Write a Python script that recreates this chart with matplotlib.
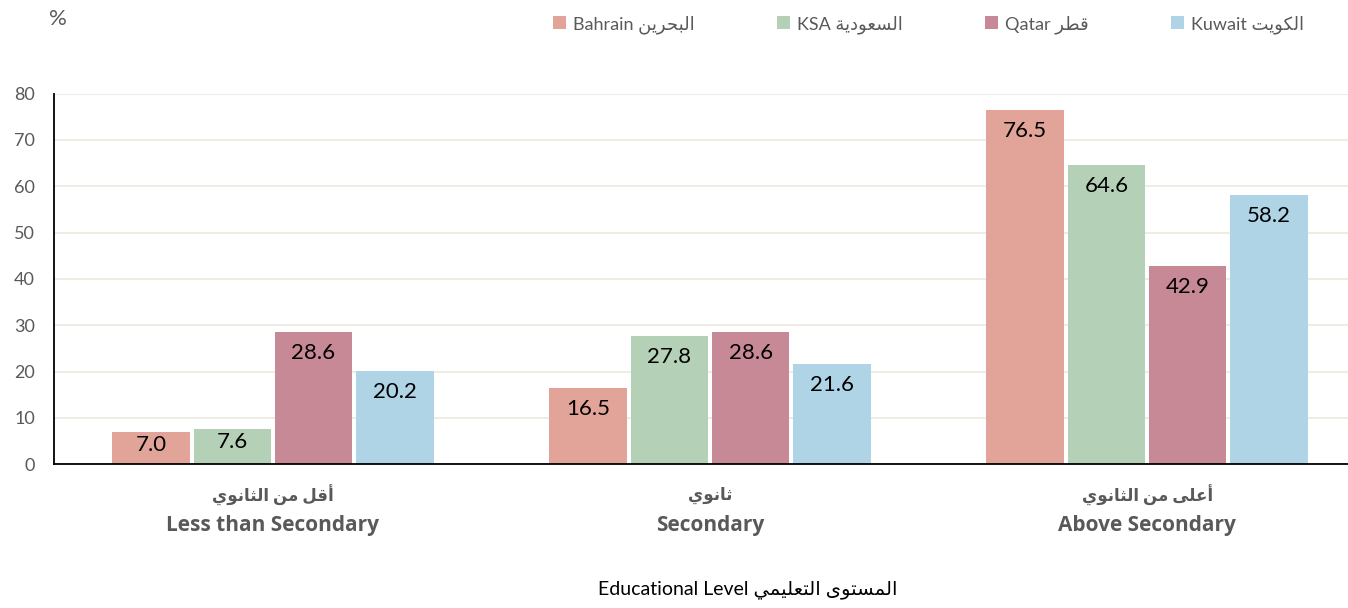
import matplotlib.pyplot as plt
import matplotlib.transforms as mtransforms
import numpy as np

# shares by education level (%)
levels_en = ["Less than Secondary", "Secondary", "Above Secondary"]
levels_ar = ["أقل من الثانوي", "ثانوي", "أعلى من الثانوي"]

countries_en = ["Bahrain", "KSA", "Qatar", "Kuwait"]
countries_ar = ["البحرين", "السعودية", "قطر", "الكويت"]

bahrain = [7.0, 16.5, 76.5]
ksa = [7.6, 27.8, 64.6]
qatar = [28.6, 28.6, 42.9]
kuwait = [20.2, 21.6, 58.2]

colors = ["#E2A498", "#B4D0B6", "#C88997", "#AED4E6"]

# presentation forms: isolated, final, initial, medial
FORMS = {
    "ا": ("\uFE8D", "\uFE8E", None, None),
    "أ": ("\uFE83", "\uFE84", None, None),
    "ب": ("\uFE8F", "\uFE90", "\uFE91", "\uFE92"),
    "ة": ("\uFE93", "\uFE94", None, None),
    "ت": ("\uFE95", "\uFE96", "\uFE97", "\uFE98"),
    "ث": ("\uFE99", "\uFE9A", "\uFE9B", "\uFE9C"),
    "ح": ("\uFEA1", "\uFEA2", "\uFEA3", "\uFEA4"),
    "د": ("\uFEA9", "\uFEAA", None, None),
    "ر": ("\uFEAD", "\uFEAE", None, None),
    "س": ("\uFEB1", "\uFEB2", "\uFEB3", "\uFEB4"),
    "ط": ("\uFEC1", "\uFEC2", "\uFEC3", "\uFEC4"),
    "ع": ("\uFEC9", "\uFECA", "\uFECB", "\uFECC"),
    "ق": ("\uFED5", "\uFED6", "\uFED7", "\uFED8"),
    "ك": ("\uFED9", "\uFEDA", "\uFEDB", "\uFEDC"),
    "ل": ("\uFEDD", "\uFEDE", "\uFEDF", "\uFEE0"),
    "م": ("\uFEE1", "\uFEE2", "\uFEE3", "\uFEE4"),
    "ن": ("\uFEE5", "\uFEE6", "\uFEE7", "\uFEE8"),
    "و": ("\uFEED", "\uFEEE", None, None),
    "ى": ("\uFEEF", "\uFEF0", None, None),
    "ي": ("\uFEF1", "\uFEF2", "\uFEF3", "\uFEF4"),
}


def shape(text):
    # join letters and put them in visual (left-to-right) order
    out = []
    for i, ch in enumerate(text):
        if ch not in FORMS:
            out.append(ch)
            continue
        prev = text[i - 1] if i > 0 else ""
        nxt = text[i + 1] if i + 1 < len(text) else ""
        join_prev = prev in FORMS and FORMS[prev][2] is not None
        join_next = FORMS[ch][2] is not None and nxt in FORMS
        iso, fin, ini, med = FORMS[ch]
        if join_prev and join_next:
            out.append(med)
        elif join_prev:
            out.append(fin)
        elif join_next:
            out.append(ini)
        else:
            out.append(iso)
    return "".join(out)[::-1]


plt.rcParams["font.family"] = ["Lato", "DejaVu Sans"]
grey = "#595959"

fig = plt.figure(figsize=(13.48, 6.08), dpi=100)
ax = fig.add_axes([0.0403, 0.2363, 0.9728, 0.6097])

x = np.arange(len(levels_en))
width = 0.177
step = 0.186
series = [bahrain, ksa, qatar, kuwait]

for k, vals in enumerate(series):
    pos = x + (k - 1.5) * step
    label = countries_en[k] + " " + shape(countries_ar[k])
    bars = ax.bar(pos, vals, width, color=colors[k], label=label, zorder=2)
    for b, v in zip(bars, vals):
        off = -21 if v > 10 else -13
        ax.annotate(f"{v:.1f}", (b.get_x() + b.get_width() / 2, v),
                    xytext=(0, off * 0.72), textcoords="offset points",
                    ha="center", va="center", fontsize=16, color="black")

ax.set_xlim(-0.5, 2.5)
ax.set_ylim(0, 80)
ax.set_yticks(range(0, 81, 10))
ax.grid(axis="y", color="#EEEBE1", linewidth=1.3, zorder=0)
ax.set_axisbelow(True)

for s in ["top", "right"]:
    ax.spines[s].set_visible(False)
for s in ["left", "bottom"]:
    ax.spines[s].set_color("black")
    ax.spines[s].set_linewidth(1.3)

ax.tick_params(axis="y", length=0, pad=14, labelsize=13, labelcolor=grey)
ax.set_xticks(x)
ax.set_xticklabels([])
ax.tick_params(axis="x", length=0)

# two-line category labels: Arabic above, English below
trans = mtransforms.blended_transform_factory(ax.transData, fig.transFigure)
for xi, a, e in zip(x, levels_ar, levels_en):
    ax.text(xi, 1 - 495 / 608, shape(a), transform=trans, ha="center",
            va="center", fontsize=12, fontweight="bold", color=grey)
    ax.text(xi, 1 - 526 / 608, e, transform=trans, ha="center",
            va="center", fontsize=15, fontweight="bold", color=grey,
            family=["Open Sans", "DejaVu Sans"])

fig.text(0.043, 0.968, "%", fontsize=16, color=grey, ha="center", va="center")
fig.text(0.555, 0.03, "Educational Level " + shape("المستوى التعليمي"),
         fontsize=14, color="black", ha="center", va="center")

fig.legend(loc="center left", bbox_to_anchor=(0.398, 0.96), ncol=4,
           frameon=False, fontsize=13, labelcolor=grey,
           handlelength=0.72, handleheight=0.72, handletextpad=0.4,
           columnspacing=4.55)

fig.savefig("out.png", dpi=100)
